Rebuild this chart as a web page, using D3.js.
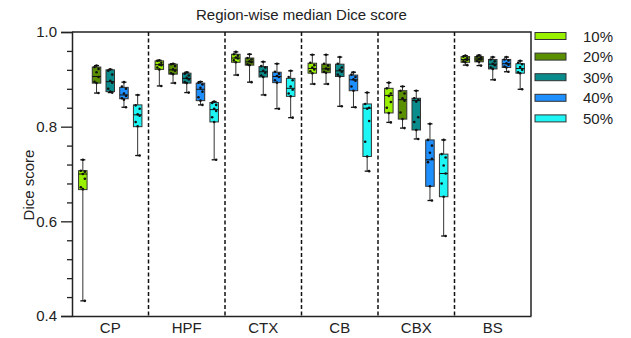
<!DOCTYPE html>
<html>
<head>
<meta charset="utf-8">
<script src="https://cdn.jsdelivr.net/npm/d3@7"></script>
<style>
  body { margin: 0; background: #fff; }
  text { font-family: "Liberation Sans", Arial, sans-serif; fill: #222; }
</style>
</head>
<body>
<div id="chart"></div>
<script>
// regions and masking levels
var regions = ["CP", "HPF", "CTX", "CB", "CBX", "BS"];
var levels = ["10%", "20%", "30%", "40%", "50%"];
var colors = ["#99f000", "#5a8f00", "#0a8c8c", "#1e8fff", "#1ef5f5"];

// box stats per level, one entry per region: [min, q1, median, q3, max]
var box10 = [[0.432, 0.667, 0.700, 0.707, 0.730], [0.886, 0.921, 0.931, 0.939, 0.940], [0.909, 0.936, 0.945, 0.953, 0.958],
             [0.890, 0.913, 0.923, 0.934, 0.952], [0.809, 0.829, 0.866, 0.881, 0.893], [0.930, 0.936, 0.942, 0.948, 0.950]];
var box20 = [[0.871, 0.892, 0.906, 0.926, 0.929], [0.892, 0.911, 0.920, 0.932, 0.933], [0.894, 0.930, 0.937, 0.945, 0.953],
             [0.890, 0.914, 0.922, 0.932, 0.952], [0.797, 0.816, 0.857, 0.876, 0.885], [0.929, 0.937, 0.943, 0.948, 0.951]];
var box30 = [[0.872, 0.874, 0.895, 0.920, 0.921], [0.872, 0.892, 0.902, 0.913, 0.915], [0.867, 0.905, 0.916, 0.927, 0.937],
             [0.843, 0.906, 0.918, 0.932, 0.947], [0.774, 0.793, 0.855, 0.860, 0.876], [0.899, 0.922, 0.932, 0.942, 0.947]];
var box40 = [[0.841, 0.859, 0.867, 0.883, 0.894], [0.846, 0.855, 0.879, 0.892, 0.895], [0.838, 0.893, 0.906, 0.915, 0.933],
             [0.841, 0.876, 0.899, 0.909, 0.915], [0.644, 0.674, 0.730, 0.772, 0.806], [0.916, 0.925, 0.933, 0.942, 0.947]];
var box50 = [[0.739, 0.800, 0.825, 0.846, 0.867], [0.730, 0.810, 0.836, 0.851, 0.853], [0.819, 0.864, 0.881, 0.902, 0.918],
             [0.706, 0.737, 0.839, 0.848, 0.872], [0.569, 0.652, 0.701, 0.742, 0.772], [0.879, 0.913, 0.923, 0.933, 0.939]];

// individual subject scores per level, one list per region
var dots10 = [[0.730, 0.707, 0.705, 0.700, 0.690, 0.672, 0.668, 0.432], [0.940, 0.939, 0.935, 0.931, 0.930, 0.925, 0.921, 0.886],
              [0.958, 0.953, 0.950, 0.946, 0.944, 0.940, 0.936, 0.909], [0.952, 0.935, 0.930, 0.925, 0.921, 0.917, 0.913, 0.890],
              [0.893, 0.881, 0.870, 0.865, 0.852, 0.840, 0.829, 0.809], [0.950, 0.948, 0.945, 0.942, 0.941, 0.938, 0.936, 0.930]];
var dots20 = [[0.929, 0.926, 0.922, 0.915, 0.905, 0.895, 0.892, 0.871], [0.933, 0.932, 0.928, 0.921, 0.918, 0.913, 0.911, 0.892],
              [0.953, 0.945, 0.942, 0.938, 0.936, 0.932, 0.930, 0.894], [0.952, 0.933, 0.929, 0.923, 0.921, 0.916, 0.914, 0.890],
              [0.885, 0.876, 0.870, 0.860, 0.855, 0.830, 0.816, 0.797], [0.951, 0.948, 0.946, 0.943, 0.942, 0.939, 0.937, 0.929]];
var dots30 = [[0.921, 0.918, 0.910, 0.897, 0.893, 0.880, 0.874, 0.872], [0.915, 0.912, 0.908, 0.903, 0.900, 0.894, 0.892, 0.872],
              [0.937, 0.928, 0.925, 0.918, 0.914, 0.908, 0.905, 0.867], [0.947, 0.933, 0.925, 0.920, 0.916, 0.910, 0.906, 0.843],
              [0.876, 0.860, 0.857, 0.853, 0.820, 0.810, 0.793, 0.774], [0.947, 0.942, 0.938, 0.933, 0.930, 0.925, 0.922, 0.899]];
var dots40 = [[0.894, 0.885, 0.880, 0.870, 0.865, 0.860, 0.857, 0.841], [0.895, 0.893, 0.889, 0.882, 0.874, 0.862, 0.855, 0.846],
              [0.933, 0.916, 0.912, 0.907, 0.905, 0.898, 0.893, 0.838], [0.915, 0.910, 0.905, 0.900, 0.897, 0.885, 0.876, 0.841],
              [0.806, 0.772, 0.760, 0.745, 0.732, 0.725, 0.674, 0.644], [0.947, 0.942, 0.940, 0.934, 0.931, 0.927, 0.925, 0.916]];
var dots50 = [[0.867, 0.845, 0.838, 0.826, 0.823, 0.810, 0.801, 0.739], [0.853, 0.850, 0.846, 0.838, 0.833, 0.820, 0.810, 0.730],
              [0.918, 0.905, 0.898, 0.885, 0.878, 0.870, 0.864, 0.819], [0.872, 0.848, 0.840, 0.838, 0.812, 0.768, 0.737, 0.706],
              [0.772, 0.742, 0.735, 0.718, 0.701, 0.680, 0.652, 0.569], [0.939, 0.935, 0.932, 0.926, 0.920, 0.915, 0.913, 0.879]];

var yTicks = [0.4, 0.6, 0.8, 1.0];
var yMinor = [0.44, 0.48, 0.52, 0.56, 0.64, 0.68, 0.72, 0.76, 0.84, 0.88, 0.92, 0.96];

var boxes = [box10, box20, box30, box40, box50];
var dots = [dots10, dots20, dots30, dots40, dots50];

var width = 631, height = 338;
var plotL = 72, plotR = 531, plotT = 32, plotB = 316;

var svg = d3.select("#chart").append("svg")
  .attr("width", width)
  .attr("height", height);

var x0 = d3.scaleBand().domain(regions).range([plotL, plotR]);
var x1 = d3.scaleBand().domain(levels).range([0, x0.bandwidth()])
  .paddingInner(0.38).paddingOuter(0.48);
var y = d3.scaleLinear().domain([0.4, 1.0]).range([plotB, plotT]);

// frame on top and right
svg.append("path")
  .attr("d", "M" + plotL + "," + plotT + "H" + plotR + "V" + plotB)
  .attr("fill", "none").attr("stroke", "#222").attr("stroke-width", 1.5);

// dashed dividers between regions
svg.selectAll("line.div").data(regions.slice(1)).enter().append("line")
  .attr("class", "div")
  .attr("x1", function(d) { return x0(d); })
  .attr("x2", function(d) { return x0(d); })
  .attr("y1", plotT).attr("y2", plotB)
  .attr("stroke", "#111").attr("stroke-width", 1.5)
  .attr("stroke-dasharray", "4,2.5");

// boxes
levels.forEach(function(lv, li) {
  var g = svg.append("g");
  var bw = x1.bandwidth();
  regions.forEach(function(r, ri) {
    var s = boxes[li][ri];
    var cx = x0(r) + x1(lv) + bw / 2;
    var bg = g.append("g");
    bg.append("line")
      .attr("x1", cx).attr("x2", cx)
      .attr("y1", y(s[0])).attr("y2", y(s[4]))
      .attr("stroke", "#333").attr("stroke-width", 1);
    [s[0], s[4]].forEach(function(v) {
      bg.append("line")
        .attr("x1", cx - 2.5).attr("x2", cx + 2.5)
        .attr("y1", y(v)).attr("y2", y(v))
        .attr("stroke", "#111").attr("stroke-width", 1.3);
    });
    bg.append("rect")
      .attr("x", cx - bw / 2).attr("width", bw)
      .attr("y", y(s[3])).attr("height", y(s[1]) - y(s[3]))
      .attr("fill", colors[li]).attr("stroke", "#333").attr("stroke-width", 1);
    bg.append("line")
      .attr("x1", cx - bw / 2).attr("x2", cx + bw / 2)
      .attr("y1", y(s[2])).attr("y2", y(s[2]))
      .attr("stroke", "#111").attr("stroke-width", 1);
    var jit = [0, -2, 2, 0, 2, -2, 0, 2];
    bg.selectAll("circle").data(dots[li][ri]).enter().append("circle")
      .attr("cx", function(d, i) { return cx + jit[i % jit.length]; })
      .attr("cy", function(d) { return y(d); })
      .attr("r", 1.3)
      .attr("fill", "#111");
  });
});

// y axis
var yAxis = svg.append("g")
  .attr("transform", "translate(" + plotL + ",0)")
  .call(d3.axisLeft(y).tickValues(yTicks).tickFormat(d3.format(".1f")).tickSize(11).tickPadding(4));
yAxis.select(".domain").attr("stroke-width", 1.5).attr("stroke", "#222");
yAxis.selectAll(".tick line").attr("stroke-width", 1.3).attr("stroke", "#222");
yAxis.selectAll("text").style("font-size", "15px").attr("fill", "#222")
  .style("font-family", "'Liberation Sans', Arial, sans-serif");

svg.append("g")
  .attr("transform", "translate(" + plotL + ",0)")
  .call(d3.axisLeft(y).tickValues(yMinor).tickFormat("").tickSize(5))
  .call(function(g) { g.select(".domain").remove(); })
  .selectAll(".tick line").attr("stroke-width", 1.3).attr("stroke", "#222");

// x axis
var xAxis = svg.append("g")
  .attr("transform", "translate(0," + plotB + ")")
  .call(d3.axisBottom(x0).tickSize(0).tickPadding(6));
xAxis.select(".domain").attr("stroke-width", 1.5).attr("stroke", "#222");
xAxis.selectAll("text").style("font-size", "15px").attr("fill", "#222")
  .style("font-family", "'Liberation Sans', Arial, sans-serif");

// title and y label
svg.append("text")
  .attr("x", (plotL + plotR) / 2).attr("y", 20)
  .attr("text-anchor", "middle").style("font-size", "15px")
  .text("Region-wise median Dice score");

svg.append("text")
  .attr("transform", "translate(34,185) rotate(-90)")
  .attr("text-anchor", "middle").style("font-size", "15px")
  .text("Dice score");

// legend
var leg = svg.selectAll("g.leg").data(levels).enter().append("g")
  .attr("class", "leg")
  .attr("transform", function(d, i) { return "translate(535," + (36 + i * 20.6) + ")"; });
leg.append("rect")
  .attr("x", 0).attr("y", -3.5).attr("width", 31).attr("height", 7)
  .attr("fill", function(d, i) { return colors[i]; })
  .attr("stroke", "#333").attr("stroke-width", 1);
leg.append("text")
  .attr("x", 48).attr("y", 5.5)
  .style("font-size", "15px")
  .text(function(d) { return d; });
</script>
</body>
</html>
